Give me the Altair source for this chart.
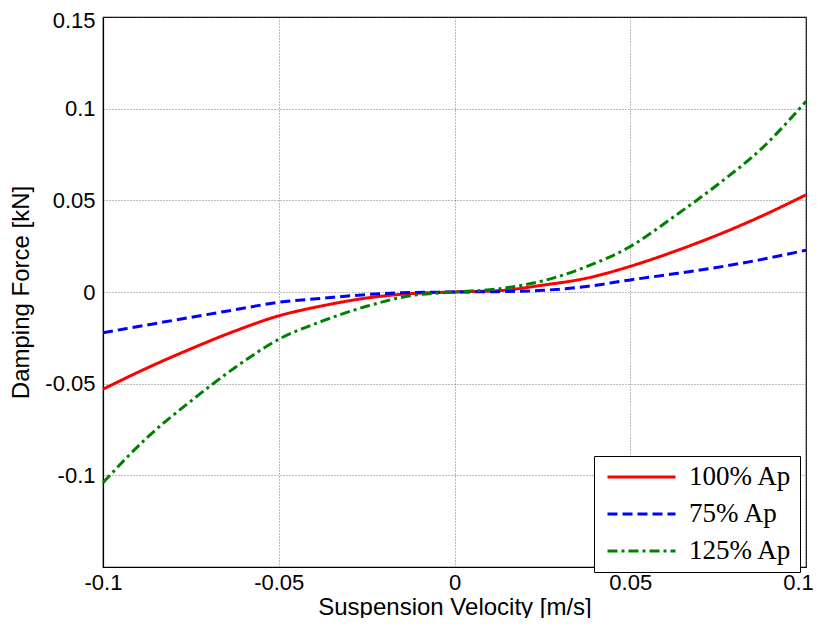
import altair as alt
import pandas as pd

# Data
velocity = [-0.1, -0.0875, -0.075, -0.0625, -0.05, -0.0375, -0.025, -0.0125, 0.0,
            0.0125, 0.025, 0.0375, 0.05, 0.0625, 0.075, 0.0875, 0.1]
force_100 = [-0.053, -0.0415, -0.031, -0.0213, -0.013, -0.0075, -0.0033, -0.0009, 0.0,
             0.0007, 0.0037, 0.0075, 0.014, 0.0221, 0.0312, 0.0415, 0.053]
force_75 = [-0.0222, -0.018, -0.0138, -0.0097, -0.0056, -0.0034, -0.0014, -0.0003, 0.0,
            0.0002, 0.0009, 0.003, 0.0066, 0.0099, 0.0135, 0.0178, 0.0228]
force_125 = [-0.104, -0.0795, -0.0595, -0.0413, -0.0258, -0.0158, -0.0078, -0.002, 0.0,
             0.0017, 0.006, 0.0138, 0.0248, 0.0412, 0.0588, 0.0785, 0.104]

series_names = ["100% Ap", "75% Ap", "125% Ap"]
series_colors = ["#ff0000", "#0000ff", "#008000"]
series_dashes = [[1, 0], [10, 5], [10, 4, 3, 4]]

x_ticks = [-0.1, -0.05, 0, 0.05, 0.1]
y_ticks = [-0.15, -0.1, -0.05, 0, 0.05, 0.1, 0.15]

rows = []
for name, vals in zip(series_names, [force_100, force_75, force_125]):
    for v, f in zip(velocity, vals):
        rows.append({"v": v, "f": f, "s": name})
df = pd.DataFrame(rows)

legend = alt.Legend(
    title=None,
    orient="none",
    legendX=491,
    legendY=439,
    symbolType="stroke",
    symbolSize=4624,
    symbolStrokeWidth=3,
    symbolOffset=4,
    clipHeight=26,
    rowPadding=10,
    padding=8,
    labelOffset=12,
    labelFont="Liberation Serif",
    labelFontSize=27,
    labelColor="black",
    fillColor="white",
    strokeColor="black",
    labelLimit=300,
)

chart = alt.Chart(df).mark_line(strokeWidth=3, interpolate="monotone").encode(
    x=alt.X("v:Q",
            scale=alt.Scale(domain=[-0.1, 0.1], nice=False, zero=False),
            axis=alt.Axis(values=x_ticks, title="Suspension Velocity [m/s]",
                          labelExpr="'' + datum.value", labelPadding=5, titlePadding=2,
                          labelOffset=alt.condition("datum.value > 0.09", alt.value(-8), alt.value(0)))),
    y=alt.Y("f:Q",
            scale=alt.Scale(domain=[-0.15, 0.15], nice=False, zero=False),
            axis=alt.Axis(values=y_ticks, title="Damping Force [kN]",
                          labelExpr="datum.value < -0.14 ? '' : '' + datum.value",
                          labelPadding=8, titlePadding=11,
                          labelOffset=alt.condition("datum.value > 0.14", alt.value(3), alt.value(0)))),
    color=alt.Color("s:N", scale=alt.Scale(domain=series_names, range=series_colors), legend=legend),
    strokeDash=alt.StrokeDash("s:N", scale=alt.Scale(domain=series_names, range=series_dashes), legend=legend),
    order=alt.Order("v:Q"),
).properties(
    width=703,
    height=550,
    autosize=alt.AutoSizeParams(type="none"),
    padding={"left": 95, "top": 9, "right": 8, "bottom": 51},
).configure_view(
    stroke="black", strokeWidth=1.2
).configure_axis(
    labelFont="Liberation Sans",
    titleFont="Liberation Sans",
    labelFontSize=22,
    titleFontSize=24,
    labelColor="black",
    titleColor="black",
    titleFontWeight="normal",
    domainColor="black",
    domainWidth=1.2,
    ticks=False,
    grid=True,
    gridColor="#555555",
    gridDash=[1, 2],
    gridWidth=0.8,
    gridOpacity=1,
    labelFlush=False,
    labelOverlap=False,
)

chart.save("out.html", embed_options={"renderer": "svg", "actions": False})
